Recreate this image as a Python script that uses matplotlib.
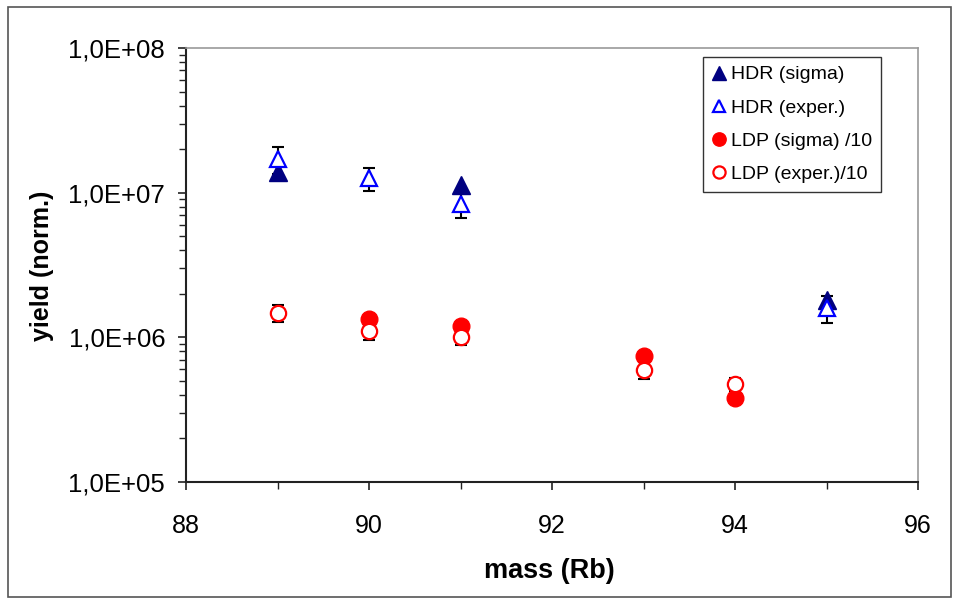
import matplotlib
matplotlib.use("Agg")
import matplotlib.pyplot as plt
from matplotlib.ticker import LogLocator, FuncFormatter, MultipleLocator, NullFormatter
from matplotlib.patches import Rectangle

plt.rcParams['font.family'] = ['Liberation Sans', 'DejaVu Sans']

# HDR yields
hdr_sigma_mass = [89, 91, 95]
hdr_sigma = [1.4e7, 1.13e7, 1.82e6]

hdr_exp_mass = [89, 90, 91, 95]
hdr_exp = [1.7e7, 1.26e7, 8.4e6, 1.6e6]
hdr_exp_err = [3.6e6, 2.3e6, 1.7e6, 3.4e5]

# LDP yields, divided by 10
ldp_sigma_mass = [90, 91, 93, 94]
ldp_sigma = [1.33e6, 1.2e6, 7.4e5, 3.8e5]

ldp_exp_mass = [89, 90, 91, 93, 94]
ldp_exp = [1.47e6, 1.11e6, 1.0e6, 5.95e5, 4.75e5]
ldp_exp_err = [2.0e5, 1.5e5, 1.2e5, 8.0e4, 5.0e4]

fig = plt.figure(figsize=(9.55, 5.99), dpi=100)
ax = fig.add_axes([0.1948, 0.1953, 0.9613 - 0.1948, 0.9199 - 0.1953])

# outer chart border
fig.patches.append(Rectangle((0.008, 0.004), 0.988, 0.985, transform=fig.transFigure,
                             fill=False, edgecolor='#555555', linewidth=1.2))

# error bars go underneath the markers
ax.errorbar(hdr_exp_mass, hdr_exp, yerr=hdr_exp_err, fmt='none', ecolor='black',
            elinewidth=1.5, capsize=4.5, capthick=1.5, zorder=2)
ax.errorbar(ldp_exp_mass, ldp_exp, yerr=ldp_exp_err, fmt='none', ecolor='black',
            elinewidth=1.5, capsize=4.5, capthick=1.5, zorder=2)

ax.plot(hdr_sigma_mass, hdr_sigma, ls='none', marker='^', ms=12.5, color='#000080',
        mec='#000080', label='HDR (sigma)', zorder=3)
ax.plot(hdr_exp_mass, hdr_exp, ls='none', marker='^', ms=11.5, mfc='white', mec='#0000FF',
        mew=1.6, label='HDR (exper.)', zorder=4)
ax.plot(ldp_sigma_mass, ldp_sigma, ls='none', marker='o', ms=12, color='#FF0000',
        label='LDP (sigma) /10', zorder=3)
ax.plot(ldp_exp_mass, ldp_exp, ls='none', marker='o', ms=11, mfc='white', mec='#FF0000',
        mew=1.6, label='LDP (exper.)/10', zorder=4)

ax.set_yscale('log')
ax.set_ylim(1e5, 1e8)
ax.set_xlim(88, 96)

ax.yaxis.set_major_locator(LogLocator(base=10, numticks=10))
ax.yaxis.set_minor_locator(LogLocator(base=10, subs=range(2, 10), numticks=20))
ax.yaxis.set_major_formatter(FuncFormatter(lambda v, p: ('%.1E' % v).replace('.', ',')))
ax.yaxis.set_minor_formatter(NullFormatter())
ax.xaxis.set_major_locator(MultipleLocator(2))
ax.xaxis.set_minor_locator(MultipleLocator(1))

ax.tick_params(axis='both', which='major', direction='out', length=6, width=1.2,
               labelsize=18, color='#222222')
ax.tick_params(axis='y', which='major', labelsize=18.5, pad=9)
ax.tick_params(axis='both', which='minor', direction='out', length=5, width=1.0,
               color='#222222')
ax.tick_params(axis='x', which='major', pad=17)

for side in ('left', 'bottom'):
    ax.spines[side].set_color('#222222')
    ax.spines[side].set_linewidth(1.5)
for side in ('top', 'right'):
    ax.spines[side].set_color('#999999')
    ax.spines[side].set_linewidth(1.2)

fig.text(42 / 955, 1 - 266 / 599, 'yield (norm.)', rotation=90, fontsize=18,
         fontweight='bold', ha='center', va='center')
fig.text(549 / 955, 1 - 571 / 599, 'mass (Rb)', fontsize=19.5, fontweight='bold',
         ha='center', va='center')

leg = ax.legend(loc='upper left', bbox_to_anchor=(703 / 955, 1 - 57 / 599),
                bbox_transform=fig.transFigure, fontsize=14, frameon=True,
                fancybox=False, edgecolor='black', markerscale=0.8,
                handlelength=0.7, handletextpad=0.3, labelspacing=0.8,
                borderpad=0.45, borderaxespad=0)
leg.get_frame().set_linewidth(1.0)

fig.savefig('out.png', dpi=100)
